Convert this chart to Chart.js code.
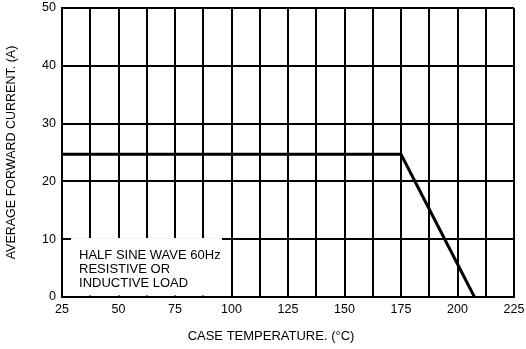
<!DOCTYPE html>
<html><head><meta charset="utf-8">
<script src="https://cdn.jsdelivr.net/npm/chart.js@4/dist/chart.umd.min.js"></script>
<style>html,body{margin:0;padding:0;background:#fff;}#wrap{width:526px;height:349px;}</style>
</head><body><div id="wrap"><canvas id="c" width="526" height="349"></canvas></div>
<script>
const temperature = [25, 175, 207.5];
const current = [24.7, 24.7, 0];
const xTickLabels = [25, 50, 75, 100, 125, 150, 175, 200, 225];
const yTickLabels = [0, 10, 20, 30, 40, 50];
const noteLines = ["HALF SINE WAVE 60Hz", "RESISTIVE OR", "INDUCTIVE LOAD"];
const noteBox = {x0: 29, x1: 95.8, y0: 0, y1: 10.2};
const xTitle = 'CASE TEMPERATURE. (°C)';
const yTitle = 'AVERAGE FORWARD CURRENT. (A)';

const FONT = "'Liberation Sans', Arial, sans-serif";

const notePlugin = {
  id: 'note',
  beforeDatasetsDraw(chart) {
    const {ctx, scales:{x, y}} = chart;
    const l = x.getPixelForValue(noteBox.x0), r = x.getPixelForValue(noteBox.x1);
    const t = y.getPixelForValue(noteBox.y1), b = y.getPixelForValue(noteBox.y0);
    ctx.save();
    ctx.fillStyle = '#fff';
    ctx.fillRect(l, t, r - l, b - t - 1.5);
    ctx.fillStyle = '#000';
    ctx.font = '13px ' + FONT;
    ctx.textBaseline = 'middle';
    noteLines.forEach((s, i) => ctx.fillText(s, l + 8, t + 17 + i * 14));
    ctx.restore();
  },
  afterDraw(chart) {
    const {ctx, chartArea} = chart;
    ctx.save();
    ctx.fillStyle = '#000';
    ctx.font = '13px ' + FONT;
    ctx.textAlign = 'center';
    ctx.textBaseline = 'middle';
    ctx.fillText(xTitle, (chartArea.left + chartArea.right) / 2 - 17, chart.height - 13);
    ctx.restore();
  }
};

new Chart(document.getElementById('c'), {
  type: 'scatter',
  data: {
    datasets: [{
      data: temperature.map((t, i) => ({x: t, y: current[i]})),
      showLine: true,
      borderColor: '#000',
      borderWidth: 3,
      pointRadius: 0,
      fill: false,
      tension: 0
    }]
  },
  options: {
    responsive: false,
    animation: false,
    events: [],
    layout: {padding: {top: 8, right: 12, left: 0, bottom: 0}},
    plugins: {legend: {display: false}, tooltip: {enabled: false}},
    scales: {
      x: {
        type: 'linear', min: 25, max: 225,
        afterBuildTicks(s) {
          const arr = [];
          for (let i = 0; i < xTickLabels.length; i++) {
            arr.push({value: xTickLabels[i]});
            if (i < xTickLabels.length - 1) arr.push({value: (xTickLabels[i] + xTickLabels[i+1]) / 2});
          }
          s.ticks = arr;
        },
        afterFit(s) { s.height = 52; s.paddingLeft = 0; s.paddingRight = 0; },
        ticks: {
          autoSkip: false, maxRotation: 0, color: '#000', padding: 5,
          font: {family: FONT, size: 12.5},
          callback: v => xTickLabels.includes(v) ? String(v) : ''
        },
        grid: {color: '#000', lineWidth: 2, drawTicks: false},
        border: {color: '#000', width: 2},
        title: {display: false}
      },
      y: {
        type: 'linear', min: 0, max: 50,
        afterBuildTicks(s) { s.ticks = yTickLabels.map(v => ({value: v})); },
        afterFit(s) { s.width = 62; s.paddingTop = 0; s.paddingBottom = 0; },
        ticks: {color: '#000', padding: 6, font: {family: FONT, size: 12.5}},
        grid: {color: '#000', lineWidth: 2, drawTicks: false},
        border: {color: '#000', width: 2},
        title: {display: true, text: yTitle, color: '#000',
                font: {family: FONT, size: 12.5}, padding: {top: 4.5, bottom: 4}}
      }
    }
  },
  plugins: [notePlugin]
});
</script></body></html>
